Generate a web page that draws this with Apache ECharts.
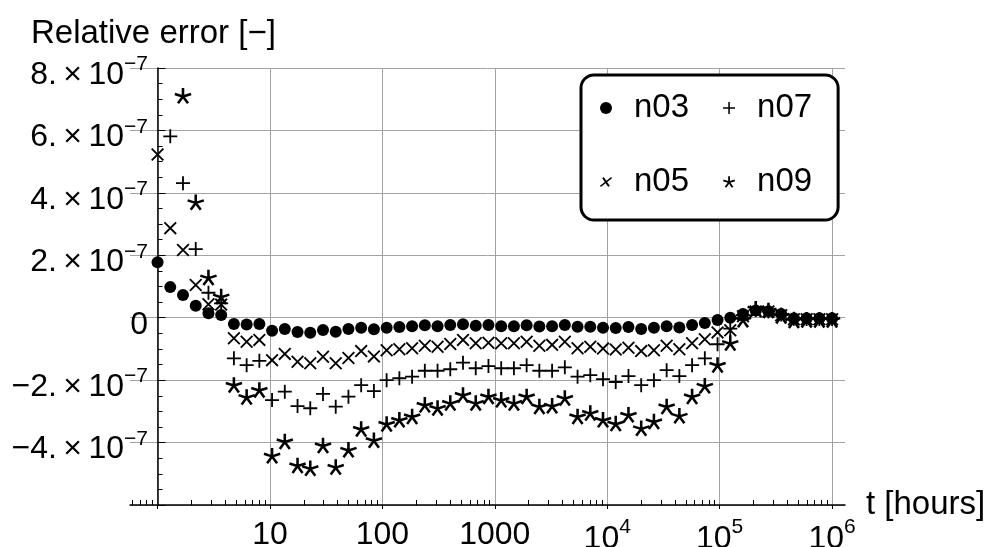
<!DOCTYPE html>
<html>
<head>
<meta charset="utf-8">
<script src="https://cdn.jsdelivr.net/npm/echarts@6/dist/echarts.min.js"></script>
<style>
  html, body { margin: 0; padding: 0; background: #fff; }
  #chart { width: 990px; height: 547px; }
</style>
</head>
<body>
<div id="chart"></div>
<script>
// time in hours, values are relative error in units of 1e-7
const hours = [1, 1.298, 1.684, 2.186, 2.837, 3.681, 4.778, 6.202, 8.048,
  10.44, 13.55, 17.59, 22.83, 29.63, 38.45, 49.9, 64.76, 84.05,
  109.1, 141.6, 183.8, 238.5, 309.5, 401.7, 521.3, 676.6, 878.1,
  1140, 1479, 1919, 2491, 3233, 4196, 5445, 7067, 9171,
  11900, 15450, 20050, 26020, 33770, 43820, 56870, 73810, 95790,
  124300, 161300, 209400, 271700, 352700, 457700, 594000, 770900, 1000000];

const n03 = [1.78, 0.98, 0.73, 0.38, 0.14, 0.09, -0.20, -0.22, -0.20,
  -0.42, -0.36, -0.46, -0.48, -0.39, -0.45, -0.36, -0.32, -0.37,
  -0.32, -0.30, -0.27, -0.24, -0.27, -0.23, -0.21, -0.26, -0.23,
  -0.27, -0.27, -0.24, -0.28, -0.27, -0.23, -0.29, -0.29, -0.32,
  -0.33, -0.30, -0.36, -0.32, -0.27, -0.31, -0.23, -0.17, -0.07,
  0.00, 0.12, 0.23, 0.21, 0.12, -0.02, -0.02, -0.02, -0.02];

const n05 = [5.23, 2.87, 2.17, 1.05, 0.43, 0.42, -0.66, -0.77, -0.71,
  -1.36, -1.16, -1.41, -1.46, -1.25, -1.46, -1.29, -1.07, -1.24,
  -1.04, -1.01, -0.98, -0.90, -0.93, -0.84, -0.71, -0.82, -0.80,
  -0.82, -0.82, -0.77, -0.90, -0.87, -0.77, -0.98, -0.93, -0.99,
  -1.02, -0.96, -1.07, -1.04, -0.90, -1.01, -0.82, -0.69, -0.47,
  -0.40, 0.05, 0.20, 0.20, 0.08, -0.05, -0.05, -0.05, -0.05];

const n07 = [null, 5.81, 4.31, 2.20, 0.80, 0.46, -1.30, -1.52, -1.38,
  -2.64, -2.37, -2.83, -2.90, -2.44, -2.85, -2.53, -2.16, -2.35,
  -2.00, -1.94, -1.89, -1.70, -1.70, -1.65, -1.44, -1.62, -1.55,
  -1.62, -1.62, -1.52, -1.70, -1.70, -1.59, -1.89, -1.84, -1.97,
  -2.06, -1.87, -2.16, -2.00, -1.68, -1.87, -1.52, -1.30, -0.85,
  -0.35, 0.08, 0.25, 0.20, 0.10, -0.03, -0.04, -0.04, -0.04];

const n09 = [null, null, 7.10, 3.69, 1.28, 0.67, -2.16, -2.55, -2.32,
  -4.43, -3.97, -4.74, -4.83, -4.10, -4.79, -4.24, -3.57, -3.93,
  -3.41, -3.28, -3.17, -2.80, -2.90, -2.74, -2.48, -2.74, -2.53,
  -2.64, -2.74, -2.53, -2.85, -2.83, -2.58, -3.17, -3.06, -3.28,
  -3.40, -3.12, -3.55, -3.33, -2.85, -3.15, -2.53, -2.19, -1.52,
  -0.82, -0.07, 0.28, 0.22, 0.05, -0.10, -0.08, -0.08, -0.08];

const decades = [0, 1, 2, 3, 4, 5, 6];   // log10 of the labelled hours
const minorFactors = [2, 3, 4, 5, 6, 7, 8, 9];

const FONT = '"Liberation Sans", Arial, sans-serif';

// marker shapes
function poly(pts) {
  return 'M' + pts.map(p => p[0].toFixed(2) + ',' + p[1].toFixed(2)).join('L') + 'Z';
}
function crossPath(k, shear) {
  const sh = p => [p[0] - (shear || 0) * p[1], p[1]];
  const a = [[-10, -10 + k], [-10 + k, -10], [10, 10 - k], [10 - k, 10]];
  const b = [[-10 + k, 10], [-10, 10 - k], [10 - k, -10], [10, -10 + k]];
  return 'path://' + poly(a.map(sh)) + poly(b.map(sh));
}
function plusPath(h) {
  return 'path://' + poly([[-h, -10], [h, -10], [h, -h], [10, -h], [10, h], [h, h],
    [h, 10], [-h, 10], [-h, h], [-10, h], [-10, -h], [-h, -h]]);
}
function starPath(n, h) {
  let s = '';
  for (let i = 0; i < n; i++) {
    const a = 2 * Math.PI * i / n;
    const d = [Math.sin(a), -Math.cos(a)];
    const p = [Math.cos(a), Math.sin(a)];
    const c = [-d[0] * h * 0.5, -d[1] * h * 0.5];
    const t = [d[0] * 10, d[1] * 10];
    s += poly([[c[0] - p[0] * h, c[1] - p[1] * h], [t[0] - p[0] * h, t[1] - p[1] * h],
      [t[0] + p[0] * h, t[1] + p[1] * h], [c[0] + p[0] * h, c[1] + p[1] * h]]);
  }
  return 'path://' + s;
}

const symX = crossPath(2.0);
const symPlus = plusPath(1.3);
const symStar = starPath(5, 1.5);

function points(vals) {
  return hours.map((t, i) => [Math.log10(t), vals[i] == null ? '-' : vals[i]]);
}

const minorTicks = [0.6, 0.7, 0.8, 0.9].map(Math.log10);
decades.slice(0, 6).forEach(d => minorFactors.forEach(k => minorTicks.push(d + Math.log10(k))));

const chart = echarts.init(document.getElementById('chart'), null, { renderer: 'canvas' });

const black = { color: '#000', opacity: 1 };

const option = {
  backgroundColor: '#fff',
  animation: false,
  textStyle: { fontFamily: FONT, color: '#000' },
  title: {
    text: 'Relative error [\u2212]',
    left: 31, top: 17, padding: 0,
    textStyle: { fontFamily: FONT, fontSize: 33, fontWeight: 'normal', color: '#000' }
  },
  grid: { left: 130, right: 145, top: 68, bottom: 42, containLabel: false, outerBoundsMode: 'none' },
  legend: {
    left: 581, top: 75,
    width: 250,
    orient: 'horizontal',
    padding: [13, 26, 18, 19],
    itemGap: 34,
    itemWidth: 12,
    itemHeight: 12,
    borderColor: '#000',
    borderWidth: 3,
    borderRadius: 13,
    backgroundColor: '#fff',
    selectedMode: false,
    itemStyle: { opacity: 1 },
    textStyle: { fontFamily: FONT, fontSize: 33, color: '#000', lineHeight: 40, padding: [0, 0, 0, 17] },
    data: [
      { name: 'n03', icon: 'circle' },
      { name: 'n07', icon: symPlus },
      { name: 'n05', icon: crossPath(2.4, 0.3) },
      { name: 'n09', icon: symStar }
    ]
  },
  xAxis: [{
    type: 'value',
    min: -0.245, max: 6.115,
    position: 'bottom',
    name: 't [hours]',
    nameLocation: 'end',
    nameGap: 21,
    nameTextStyle: { fontFamily: FONT, fontSize: 33, color: '#000', padding: [8, 0, 0, 0] },
    axisLine: { onZero: false, lineStyle: { color: '#000', width: 1.5 } },
    axisTick: { customValues: decades, inside: false, length: 4, lineStyle: { color: '#000', width: 1 } },
    axisLabel: {
      customValues: decades.slice(1),
      margin: 12,
      formatter: v => v <= 3 ? '{a|' + Math.pow(10, v) + '}' : '{b|10}{s|' + v + '}',
      rich: {
        a: { fontFamily: FONT, fontSize: 32, lineHeight: 36, color: '#000' },
        b: { fontFamily: FONT, fontSize: 32, lineHeight: 44, color: '#000' },
        s: { fontFamily: FONT, fontSize: 21, lineHeight: 21, verticalAlign: 'top', color: '#000' }
      }
    },
    splitLine: { show: true, lineStyle: { color: '#a3a3a3', width: 1 } }
  }, {
    type: 'value',
    min: -0.245, max: 6.115,
    position: 'bottom',
    axisLine: { show: false, onZero: false },
    axisTick: { customValues: minorTicks, inside: true, length: 5, lineStyle: { color: '#000', width: 1 } },
    axisLabel: { show: false },
    splitLine: { show: false }
  }],
  yAxis: {
    type: 'value',
    min: -6, max: 8, interval: 2,
    axisLine: { show: true, onZero: true, lineStyle: { color: '#000', width: 1.5 } },
    axisTick: { show: true, inside: true, length: 8, lineStyle: { color: '#000', width: 1 } },
    minorTick: { show: true, splitNumber: 4, length: 5, lineStyle: { color: '#000', width: 1 } },
    splitLine: { show: true, lineStyle: { color: '#a3a3a3', width: 1 } },
    axisLabel: {
      // labels stay at the grid edge, so pull them over to the axis line at t = 1
      margin: -18,
      formatter: v => {
        if (v === -6) return '';
        if (v === 0) return '{z|\u200b}{m|0}';
        const sign = v < 0 ? '\u2212' : '';
        return '{z|\u200b}{m|' + sign + Math.abs(v) + '.\u2009\u00d7\u200910}{s|\u22127}';
      },
      rich: {
        z: { fontFamily: FONT, fontSize: 10, lineHeight: 46, color: '#000' },
        m: { fontFamily: FONT, fontSize: 32, lineHeight: 40, verticalAlign: 'bottom', color: '#000' },
        s: { fontFamily: FONT, fontSize: 21, lineHeight: 21, padding: [9, 0, 0, 0], verticalAlign: 'top', color: '#000' }
      }
    }
  },
  series: [
    { name: 'n03', type: 'scatter', data: points(n03), symbol: 'circle', symbolSize: 12, itemStyle: black },
    { name: 'n05', type: 'scatter', data: points(n05), symbol: symX, symbolSize: 13, itemStyle: black },
    { name: 'n07', type: 'scatter', data: points(n07), symbol: symPlus, symbolSize: 14, itemStyle: black },
    { name: 'n09', type: 'scatter', data: points(n09), symbol: symStar, symbolSize: [17, 16], itemStyle: black }
  ]
};

chart.setOption(option);
</script>
</body>
</html>
